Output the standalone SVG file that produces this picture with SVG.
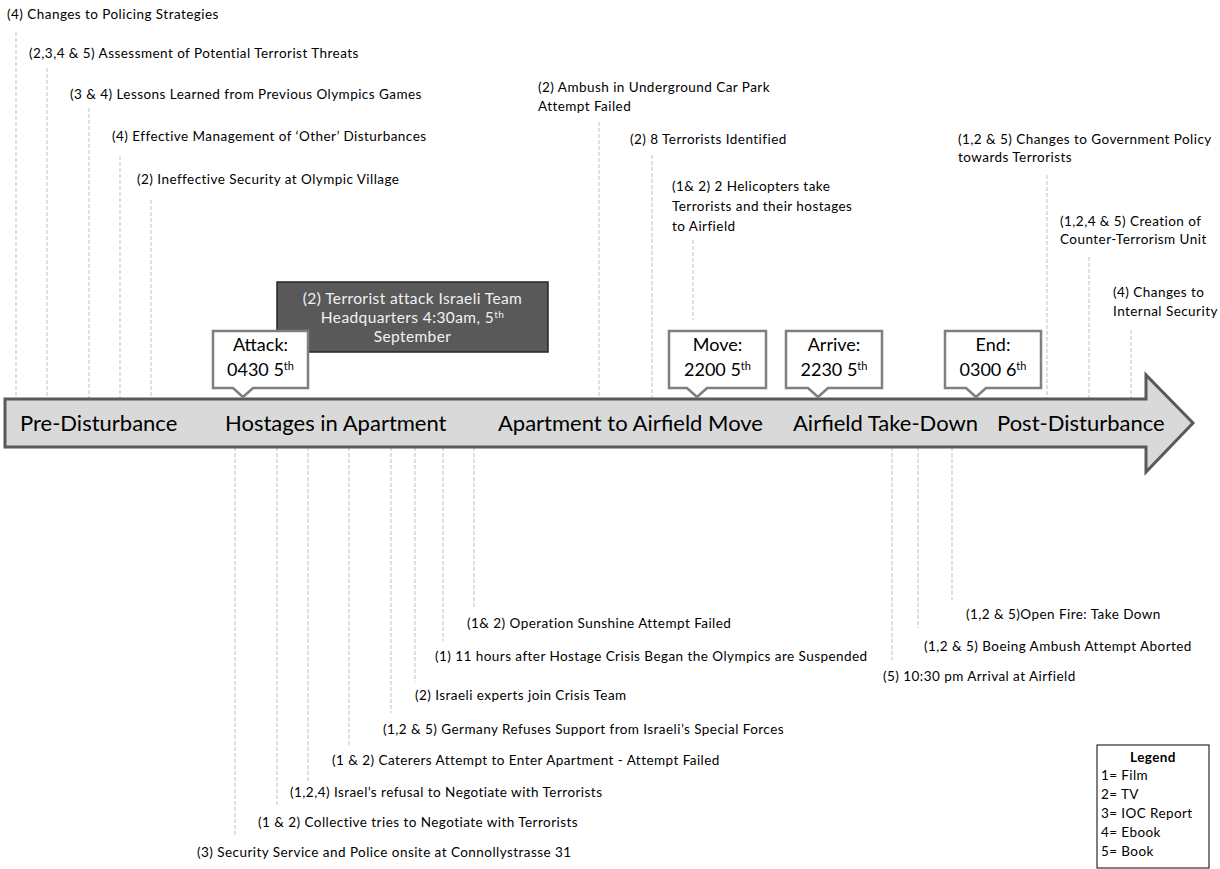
<svg xmlns="http://www.w3.org/2000/svg" width="1220" height="869" viewBox="0 0 1220 869">
<style>
text{font-family:Lato,"Open Sans","Liberation Sans",sans-serif;fill:#000}
.lb{font-size:13.5px;letter-spacing:0.45px}
.st{font-size:22px}
.co{font-size:18px;text-anchor:middle}
.dk{font-size:15.5px;letter-spacing:0.4px;text-anchor:middle;fill:#f2f2f2}
.lg{font-size:13.5px;letter-spacing:0.4px}
.dash{stroke:#bfbfbf;stroke-width:1;stroke-dasharray:4 2;fill:none}
.call{fill:#fff;stroke:#7f7f7f;stroke-width:2.5;stroke-linejoin:miter}
</style>
<rect width="1220" height="869" fill="#fff"/>
<g id="connectors">
<line class="dash" x1="16" y1="32" x2="16" y2="399"/>
<line class="dash" x1="47" y1="68" x2="47" y2="399"/>
<line class="dash" x1="89" y1="108" x2="89" y2="399"/>
<line class="dash" x1="120" y1="156" x2="120" y2="399"/>
<line class="dash" x1="151" y1="200" x2="151" y2="399"/>
<line class="dash" x1="599" y1="122" x2="599" y2="399"/>
<line class="dash" x1="652" y1="155" x2="652" y2="399"/>
<line class="dash" x1="693" y1="240" x2="693" y2="320"/>
<line class="dash" x1="1047" y1="175" x2="1047" y2="399"/>
<line class="dash" x1="1089" y1="257" x2="1089" y2="399"/>
<line class="dash" x1="1131" y1="330" x2="1131" y2="399"/>
<line class="dash" x1="235" y1="447" x2="235" y2="835"/>
<line class="dash" x1="277" y1="447" x2="277" y2="807"/>
<line class="dash" x1="308" y1="447" x2="308" y2="783"/>
<line class="dash" x1="349" y1="447" x2="349" y2="745"/>
<line class="dash" x1="391" y1="447" x2="391" y2="713"/>
<line class="dash" x1="415" y1="447" x2="415" y2="682"/>
<line class="dash" x1="443" y1="447" x2="443" y2="641"/>
<line class="dash" x1="474" y1="447" x2="474" y2="607"/>
<line class="dash" x1="892" y1="447" x2="892" y2="660"/>
<line class="dash" x1="918" y1="447" x2="918" y2="628"/>
<line class="dash" x1="952" y1="447" x2="952" y2="600"/>
</g>
<g id="timeline">
<path d="M5,399 H1146 V375 L1193,423 L1146,472 V447 H5 Z" fill="#d9d9d9" stroke="#595959" stroke-width="3"/>
<text class="st" x="20" y="431">Pre-Disturbance</text>
<text class="st" x="225" y="431">Hostages in Apartment</text>
<text class="st" x="498" y="431">Apartment to Airfield Move</text>
<text class="st" x="793" y="431">Airfield Take-Down</text>
<text class="st" x="997" y="431">Post-Disturbance</text>
</g>
<g id="top-events">
<text class="lb" x="7" y="19">(4) Changes to Policing Strategies</text>
<text class="lb" x="29" y="58">(2,3,4 &amp; 5) Assessment of Potential Terrorist Threats</text>
<text class="lb" x="70" y="99">(3 &amp; 4) Lessons Learned from Previous Olympics Games</text>
<text class="lb" x="112" y="141">(4) Effective Management of ‘Other’ Disturbances</text>
<text class="lb" x="137" y="184">(2) Ineffective Security at Olympic Village</text>
<text class="lb" x="538" y="92">(2) Ambush in Underground Car Park</text>
<text class="lb" x="538" y="111">Attempt Failed</text>
<text class="lb" x="630" y="144">(2) 8 Terrorists Identified</text>
<text class="lb" x="672" y="191">(1&amp; 2) 2 Helicopters take</text>
<text class="lb" x="672" y="211">Terrorists and their hostages</text>
<text class="lb" x="672" y="231">to Airfield</text>
<text class="lb" x="958" y="144">(1,2 &amp; 5) Changes to Government Policy</text>
<text class="lb" x="958" y="162">towards Terrorists</text>
<text class="lb" x="1060" y="226">(1,2,4 &amp; 5) Creation of</text>
<text class="lb" x="1060" y="244">Counter-Terrorism Unit</text>
<text class="lb" x="1113" y="297">(4) Changes to</text>
<text class="lb" x="1113" y="316">Internal Security</text>
</g>
<g id="bottom-events">
<text class="lb" x="467" y="628">(1&amp; 2) Operation Sunshine Attempt Failed</text>
<text class="lb" x="435" y="661">(1) 11 hours after Hostage Crisis Began the Olympics are Suspended</text>
<text class="lb" x="415" y="700">(2) Israeli experts join Crisis Team</text>
<text class="lb" x="383" y="734">(1,2 &amp; 5) Germany Refuses Support from Israeli’s Special Forces</text>
<text class="lb" x="332" y="765">(1 &amp; 2) Caterers Attempt to Enter Apartment - Attempt Failed</text>
<text class="lb" x="290" y="797">(1,2,4) Israel’s refusal to Negotiate with Terrorists</text>
<text class="lb" x="258" y="827">(1 &amp; 2) Collective tries to Negotiate with Terrorists</text>
<text class="lb" x="197" y="857">(3) Security Service and Police onsite at Connollystrasse 31</text>
<text class="lb" x="966" y="619">(1,2 &amp; 5)Open Fire: Take Down</text>
<text class="lb" x="924" y="651">(1,2 &amp; 5) Boeing Ambush Attempt Aborted</text>
<text class="lb" x="883" y="681">(5) 10:30 pm Arrival at Airfield</text>
</g>
<g id="attack-note">
<rect x="277" y="282" width="271" height="70" fill="#595959" stroke="#262626" stroke-width="1.5"/>
<text class="dk" x="412.5" y="304">(2) Terrorist attack Israeli Team</text>
<text class="dk" x="412.5" y="323">Headquarters 4:30am, 5<tspan font-size="10" dy="-5">th</tspan></text>
<text class="dk" x="412.5" y="342">September</text>
</g>
<g id="callout-attack">
<path class="call" d="M213,331 H308 V388 H253 L243,397 L233,388 H213 Z"/>
<text class="co" x="260.5" y="351">Attack:</text>
<text class="co" x="260.5" y="376">0430 5<tspan font-size="11" dy="-6">th</tspan></text>
</g>
<g id="callout-move">
<path class="call" d="M669,331 H766 V388 H707 L697,397 L687,388 H669 Z"/>
<text class="co" x="717.5" y="351">Move:</text>
<text class="co" x="717.5" y="376">2200 5<tspan font-size="11" dy="-6">th</tspan></text>
</g>
<g id="callout-arrive">
<path class="call" d="M786,331 H882 V388 H828 L818,397 L808,388 H786 Z"/>
<text class="co" x="834" y="351">Arrive:</text>
<text class="co" x="834" y="376">2230 5<tspan font-size="11" dy="-6">th</tspan></text>
</g>
<g id="callout-end">
<path class="call" d="M945,331 H1041 V388 H986 L976,397 L966,388 H945 Z"/>
<text class="co" x="993" y="351">End:</text>
<text class="co" x="993" y="376">0300 6<tspan font-size="11" dy="-6">th</tspan></text>
</g>
<g id="legend">
<rect x="1097" y="745" width="112" height="123" fill="#fff" stroke="#000" stroke-width="1"/>
<text class="lg" x="1153" y="762" text-anchor="middle" font-weight="bold">Legend</text>
<text class="lg" x="1101" y="780">1= Film</text>
<text class="lg" x="1101" y="799">2= TV</text>
<text class="lg" x="1101" y="818">3= IOC Report</text>
<text class="lg" x="1101" y="837">4= Ebook</text>
<text class="lg" x="1101" y="856">5= Book</text>
</g>
</svg>
